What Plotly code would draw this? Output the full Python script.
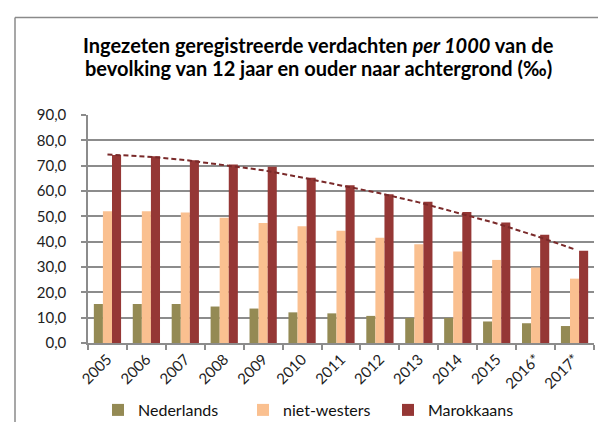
import plotly.graph_objects as go

years = ["2005", "2006", "2007", "2008", "2009", "2010", "2011", "2012",
         "2013", "2014", "2015", "2016*", "2017*"]
nederlands = [15.4, 15.4, 15.4, 14.4, 13.6, 12.1, 11.7, 10.7, 9.9, 9.9, 8.5, 7.8, 6.7]
niet_westers = [52.0, 52.0, 51.5, 49.4, 47.4, 46.1, 44.3, 41.5, 39.0, 36.1, 32.8, 29.8, 25.4]
marokkaans = [74.2, 73.7, 72.1, 70.5, 69.6, 65.2, 62.3, 58.7, 55.8, 51.7, 47.6, 42.7, 36.4]
trend_marokkaans = [74.4, 73.6, 72.2, 70.3, 68.2, 65.3, 62.3, 59.1, 55.5, 51.5, 47.2, 42.3, 37.0]
y_ticks = [0, 10, 20, 30, 40, 50, 60, 70, 80, 90]

FONT = "Lato"
W, H = 606, 422
ML, MR, MT, MB = 80, 20, 107, 87
PW = W - ML - MR
PH = H - MT - MB


def px_x(px):
    return (px - ML) / PW


def px_y(py):
    return (H - MB - py) / PH


fig = go.Figure()
fig.add_trace(go.Bar(x=years, y=nederlands, name="Nederlands",
                     marker=dict(color="#948A54", line=dict(width=0))))
fig.add_trace(go.Bar(x=years, y=niet_westers, name="niet-westers",
                     marker=dict(color="#FAC090", line=dict(width=0))))
fig.add_trace(go.Bar(x=years, y=marokkaans, name="Marokkaans",
                     marker=dict(color="#953735", line=dict(width=0))))
fig.add_trace(go.Scatter(x=years, y=trend_marokkaans, mode="lines",
                         line=dict(color="#7A2A2A", width=2, dash="5px,3px"),
                         showlegend=False, hoverinfo="skip"))

fig.update_layout(
    width=W, height=H,
    margin=dict(l=ML, r=MR, t=MT, b=MB, autoexpand=False),
    paper_bgcolor="white", plot_bgcolor="white",
    barmode="group", bargap=0.3, bargroupgap=0,
    separators=",.",
    font=dict(family=FONT, size=15, color="#222222"),
    showlegend=True,
    legend=dict(orientation="h", xref="container", yref="container",
                x=90 / W, y=1 - 402 / H,
                xanchor="left", yanchor="middle",
                entrywidth=100, entrywidthmode="pixels",
                font=dict(family=FONT, size=16, color="#111111"),
                itemwidth=30, bgcolor="rgba(0,0,0,0)"),
    xaxis=dict(type="category", showgrid=False, showline=True, automargin=False,
               linecolor="#8c8c8c", linewidth=1.5,
               ticks="outside", tickson="boundaries", ticklen=5,
               tickcolor="#8c8c8c", tickwidth=1.5,
               tickangle=-45, tickfont=dict(family=FONT, size=15, color="#222222")),
    yaxis=dict(range=[0, 90], tickvals=y_ticks, tickformat=".1f", automargin=False,
               showgrid=True, gridcolor="#8c8c8c", gridwidth=1.5,
               showline=True, linecolor="#8c8c8c", linewidth=1.5,
               ticks="outside", ticklen=5, tickcolor="#8c8c8c", tickwidth=1.5,
               zeroline=False, ticklabelstandoff=12,
               tickfont=dict(family=FONT, size=15, color="#222222")),
    annotations=[
        dict(text="<b>Ingezeten geregistreerde verdachten <i>per 1000</i> van de</b>",
             xref="paper", yref="paper", x=px_x(310), y=px_y(37),
             xanchor="center", yanchor="middle", showarrow=False,
             font=dict(family=FONT, size=20, color="#000000")),
        dict(text="<b>bevolking van 12 jaar en ouder naar achtergrond (‰)</b>",
             xref="paper", yref="paper", x=px_x(310), y=px_y(60),
             xanchor="center", yanchor="middle", showarrow=False,
             font=dict(family=FONT, size=20, color="#000000")),
    ],
    shapes=[
        dict(type="line", xref="paper", yref="paper",
             x0=px_x(7), x1=px_x(W + 5), y0=px_y(9.5), y1=px_y(9.5),
             line=dict(color="#8a8a8a", width=1.5)),
        dict(type="line", xref="paper", yref="paper",
             x0=px_x(7), x1=px_x(7), y0=px_y(9.5), y1=px_y(H + 5),
             line=dict(color="#8a8a8a", width=1.5)),
    ],
)

fig.write_html("out.html")
